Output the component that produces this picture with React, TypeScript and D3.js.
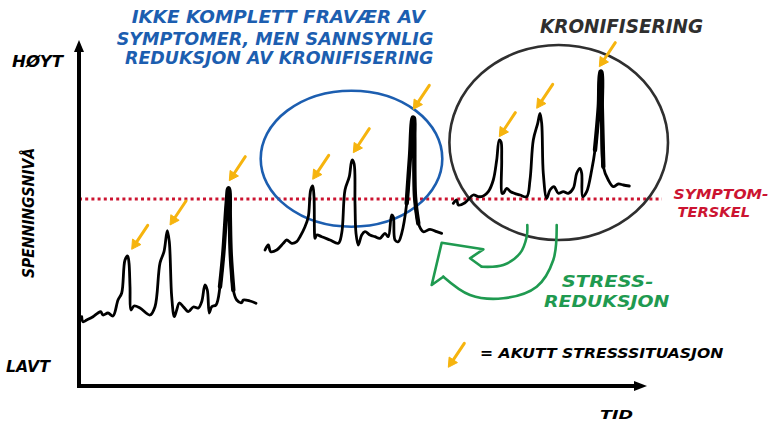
import { useEffect, useRef } from 'react'
import * as d3 from 'd3'

type Pt = [number, number]

// time (t) and tension level (v)
const episode1: Pt[] = [
  [2.7, 69.3], [4, 64.3], [7.7, 66], [14, 69.3], [19, 73], [21.7, 74.3], [24, 71], [29, 73], [34, 70],
  [39, 86], [42.7, 93], [46, 126], [48.7, 130], [50, 123], [51, 99.3], [52, 76], [55, 80], [61, 78],
  [71, 71], [76, 79.3], [81, 123], [85, 134.3], [88.3, 155.3], [90.3, 144.3], [92.7, 89.3], [95.3, 69.3],
  [97.7, 76], [100.3, 83], [104.3, 79.3], [109.3, 74.3], [114.3, 79], [119.3, 78], [122.7, 84.3],
  [126, 101], [128.3, 96], [130.3, 73], [132.7, 79.3], [137, 81], [141, 99.3], [144.3, 132.7],
  [147.7, 182.7], [149.3, 197.7], [150.3, 196], [150.8, 170], [151.7, 132.7], [154.3, 96], [157.7, 86],
  [162.7, 83.3], [164.3, 86], [171, 85], [177, 82.7],
]
const episode2: Pt[] = [
  [186, 136], [189.3, 141], [191.7, 134.3], [197.7, 136], [204.3, 142.7], [207.7, 146], [212.7, 142.7],
  [217.7, 144.3], [221, 149.3], [226, 159.3], [229.3, 169.3], [231.7, 196], [233.7, 200], [235, 189.3],
  [235.5, 152.7], [236, 147.7], [237.7, 151], [242.7, 149.3], [251, 146], [259.3, 142.7], [262.7, 152.7],
  [266, 196], [270.3, 209.3], [273, 226], [275, 222.7], [276, 182.7], [277, 152.7], [279.3, 141],
  [282.7, 151], [286, 154.3], [291, 151], [296, 149.3], [301, 147.7], [306, 152.7], [309.3, 149.3],
  [312.7, 171], [314.3, 169.3], [316, 146], [319.3, 144.3], [322.7, 152.7], [327.7, 182.7], [331, 229.3],
  [333.9, 268.5], [334.9, 268], [335.3, 249.3], [336, 189.3], [339.3, 162.7], [344.3, 154.3],
  [351, 156.7], [357.7, 154.3], [362.7, 152.7],
]
const episode3: Pt[] = [
  [374.3, 182.7], [377.7, 186], [379.3, 181], [386, 183.3], [394.3, 191], [399.3, 189.3], [404.3, 190],
  [409.3, 194.3], [414.3, 206], [417.7, 226], [420.3, 246], [422, 244.3], [422.7, 226], [423, 192.7],
  [424.3, 192.7], [427.7, 197.7], [431.7, 194.3], [441, 191], [447.7, 189.3], [451, 206], [454.3, 246],
  [458.7, 262.7], [461, 272.7], [462.7, 262.7], [464.3, 212.7], [467.7, 187.7], [471, 196], [475, 199.3],
  [479.3, 192.7], [484.3, 194.3], [489.3, 192.7], [494.3, 197.7], [497.7, 212.7], [501, 217.7],
  [502.7, 212.7], [503.7, 189.3], [507.7, 194.3], [512.7, 216], [516, 236], [519.8, 279.3], [521.4, 314.3],
  [522.4, 314], [522.8, 279.3], [524.3, 219.3], [529.3, 206], [534.3, 199.3], [539.3, 202], [544.3, 201],
  [550.3, 200],
]
const episodes = [episode1, episode2, episode3]
// the big spike of each episode is drawn heavier
const spikeWindows: Pt[] = [[141, 154.3], [327.7, 339.3], [516, 524.3]]

// arrow tips, one per acute stress situation
const stressPeaks: Pt[] = [
  [52.7, 136.7], [91, 161], [150.3, 205.3],
  [233.7, 206.7], [274.3, 233.3], [334.3, 276.7],
  [420.3, 249.3], [457.7, 277.7], [520.3, 319.3],
]
const legendArrow: Pt = [369.3, 18.7]

const symptomThreshold = 187

const titleLines = ['IKKE KOMPLETT FRAVÆR AV', 'SYMPTOMER, MEN SANNSYNLIG', 'REDUKSJON AV KRONIFISERING']

// [cx, cy, rx, ry]
const reducedCircle = [272.5, 227.3, 90.8, 68]
const chronicCircle = [479.7, 243.5, 109.3, 97.5]

const greenInner: Pt[] = [[448.3, 161], [447.7, 149.3], [441, 132.7], [424.3, 121], [402.7, 119.3]]
const greenHead: Pt[] = [[402.7, 119.3], [391, 127.7], [404.3, 136.7], [362.7, 143.3], [352.7, 101], [364.3, 109.3]]
const greenOuter: Pt[] = [[364.3, 109.3], [391, 91], [424.3, 87.7], [457.7, 99.3], [474.3, 126], [477.7, 161]]

const FONT = '"DejaVu Sans", sans-serif'
const ORANGE = '#f6b40e'
const BLUE = '#1c5eb0'
const RED = '#cc1431'
const GREEN = '#1f9a50'
const DARK = '#2f2f2f'

export default function App() {
  const svgRef = useRef<SVGSVGElement>(null)
  const width = 774
  const height = 422

  useEffect(() => {
    if (!svgRef.current) return
    const svg = d3.select(svgRef.current)
    svg.selectAll('*').remove()

    const x = d3.scaleLinear().domain([0, 566]).range([79, 645])
    const y = d3.scaleLinear().domain([0, 344]).range([386, 42])

    const text = (t: string, px: number, py: number, size: number, color: string, len?: number) => {
      const el = svg.append('text')
        .attr('x', px).attr('y', py)
        .attr('font-family', FONT)
        .attr('font-weight', 'bold')
        .attr('font-style', 'italic')
        .attr('font-size', size)
        .attr('fill', color)
        .text(t)
      if (len) el.attr('textLength', len).attr('lengthAdjust', 'spacingAndGlyphs')
      return el
    }

    // threshold
    svg.append('line')
      .attr('x1', x(0)).attr('x2', x(583))
      .attr('y1', y(symptomThreshold)).attr('y2', y(symptomThreshold))
      .attr('stroke', RED).attr('stroke-width', 3)
      .attr('stroke-dasharray', '3,3.2')

    // ellipses
    const ell = (e: number[], color: string) => svg.append('ellipse')
      .attr('cx', x(e[0])).attr('cy', y(e[1]))
      .attr('rx', x(e[2]) - x(0)).attr('ry', y(0) - y(e[3]))
      .attr('fill', 'none').attr('stroke', color).attr('stroke-width', 2.6)
    ell(reducedCircle, BLUE)
    ell(chronicCircle, DARK)

    // green u-turn arrow
    const smooth = d3.line<Pt>().x(d => x(d[0])).y(d => y(d[1])).curve(d3.curveCatmullRom)
    const straight = d3.line<Pt>().x(d => x(d[0])).y(d => y(d[1]))
    const g = svg.append('g').attr('fill', 'none').attr('stroke', GREEN).attr('stroke-width', 2.6)
      .attr('stroke-linejoin', 'round').attr('stroke-linecap', 'round')
    g.append('path').attr('d', smooth(greenInner))
    g.append('path').attr('d', straight(greenHead))
    g.append('path').attr('d', smooth(greenOuter))

    // tension trace
    const trace = d3.line<Pt>().x(d => x(d[0])).y(d => y(d[1])).curve(d3.curveCatmullRom.alpha(0.5))
    episodes.forEach((ep, i) => {
      svg.append('path').attr('d', trace(ep))
        .attr('fill', 'none').attr('stroke', '#000').attr('stroke-width', 2.8)
        .attr('stroke-linejoin', 'round').attr('stroke-linecap', 'round')
      const [a, b] = spikeWindows[i]
      svg.append('path').attr('d', trace(ep.filter(d => d[0] >= a && d[0] <= b)))
        .attr('fill', 'none').attr('stroke', '#000').attr('stroke-width', 4.4)
        .attr('stroke-linejoin', 'round').attr('stroke-linecap', 'round')
    })

    // orange arrows
    const arrow = (tip: Pt) => {
      const tx = x(tip[0]), ty = y(tip[1])
      const dx = 16, dy = -24
      const L = Math.hypot(dx, dy)
      const ux = dx / L, uy = dy / L
      const hx = tx + ux * 9, hy = ty + uy * 9
      svg.append('line').attr('x1', hx).attr('y1', hy).attr('x2', tx + dx).attr('y2', ty + dy)
        .attr('stroke', ORANGE).attr('stroke-width', 3).attr('stroke-linecap', 'round')
      svg.append('path')
        .attr('d', `M${tx},${ty}L${hx - uy * 5},${hy + ux * 5}L${hx + uy * 5},${hy - ux * 5}Z`)
        .attr('fill', ORANGE).attr('stroke', ORANGE).attr('stroke-width', 1).attr('stroke-linejoin', 'round')
    }
    stressPeaks.forEach(arrow)
    arrow(legendArrow)

    // axes
    const ax = svg.append('g').attr('stroke', '#000').attr('stroke-width', 4)
    ax.append('line').attr('x1', x(0)).attr('x2', x(0)).attr('y1', y(0) + 2).attr('y2', y(336))
    ax.append('line').attr('x1', x(0) - 2).attr('x2', x(558)).attr('y1', y(0)).attr('y2', y(0))
    svg.append('path')
      .attr('d', `M${x(0)},${y(346)}L${x(0) - 5},${y(334)}L${x(0) + 5},${y(334)}Z`).attr('fill', '#000')
    svg.append('path')
      .attr('d', `M${x(568)},${y(0)}L${x(555)},${y(0) - 5}L${x(555)},${y(0) + 5}Z`).attr('fill', '#000')

    // labels
    text('HØYT', 12, 66.5, 16, '#000', 51)
    text('LAVT', 6, 371.5, 16, '#000', 44)
    text('SPENNINGSNIVÅ', 0, 0, 15.5, '#000', 130)
      .attr('text-anchor', 'middle')
      .attr('transform', 'translate(33.5,213) rotate(-90)')
    text('TID', 600, 418.5, 12.5, '#000', 33)

    const tl = [[131.7, 23.3, 293.3], [116.7, 44.8, 316.6], [125, 64, 308.3]]
    titleLines.forEach((t, i) => text(t, tl[i][0], tl[i][1], 18, BLUE, tl[i][2]))

    text('KRONIFISERING', 540, 33.3, 20, DARK, 163)
    text('SYMPTOM-', 673.5, 199.3, 14, RED, 95)
    text('TERSKEL', 677.5, 216.7, 14, RED, 72.5)
    text('STRESS-', 561.7, 286.7, 16, GREEN, 91.6)
    text('REDUKSJON', 544, 307.3, 16, GREEN, 125.3)
    text('= AKUTT STRESSSITUASJON', 480, 358.3, 14, '#000', 243.3)
  }, [])

  return (
    <svg ref={svgRef} width={width} height={height}
      style={{ position: 'absolute', left: 0, top: 0, background: '#fff' }} />
  )
}
